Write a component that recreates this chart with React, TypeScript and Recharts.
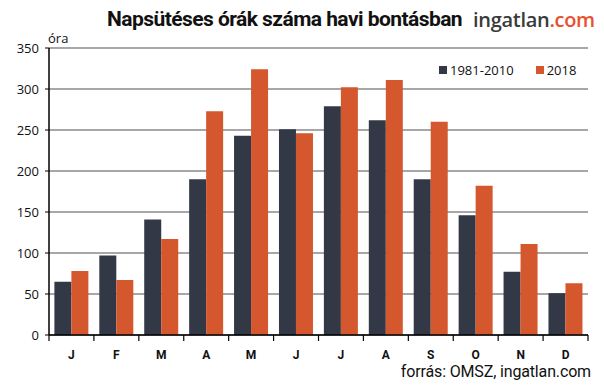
import React from "react";
import { BarChart, Bar, XAxis, YAxis, CartesianGrid } from "recharts";

const months = ["J", "F", "M", "A", "M", "J", "J", "A", "S", "O", "N", "D"];
const avg19812010 = [65, 97, 141, 190, 243, 251, 279, 262, 190, 146, 77, 51];
const y2018 = [78, 67, 117, 273, 324, 246, 302, 311, 260, 182, 111, 63];
const yTicks = [0, 50, 100, 150, 200, 250, 300, 350];

const data = months.map((m, i) => ({
  key: `${m}${i}`,
  month: m,
  a: avg19812010[i],
  b: y2018[i],
}));

const DARK = "#323846";
const ORANGE = "#D4572E";

const CHART_W = 604;
const CHART_H = 387;
const MARGIN = { top: 48, right: 16, left: 0, bottom: 22 };
const Y_W = 49;
const PLOT_W = CHART_W - MARGIN.left - MARGIN.right - Y_W;

const MonthTick = (props: any) => {
  const { x, y, index } = props;
  const step = PLOT_W / months.length;
  const left = x - step / 2;
  const right = x + step / 2;
  return (
    <g>
      <line x1={left} y1={y - 8} x2={left} y2={y - 2} stroke="#000" strokeWidth={1.2} />
      {index === months.length - 1 && (
        <line x1={right} y1={y - 8} x2={right} y2={y - 2} stroke="#000" strokeWidth={1.2} />
      )}
      <text
        x={x}
        y={y + 16}
        textAnchor="middle"
        fontFamily="Roboto, sans-serif"
        fontWeight={700}
        fontSize={12}
        fill="#111"
      >
        {months[index]}
      </text>
    </g>
  );
};

export default function App() {
  return (
    <div style={{ position: "absolute", left: 0, top: 0, width: CHART_W, height: CHART_H, background: "#fff" }}>
      <div
        style={{
          position: "absolute",
          left: 107,
          top: 7,
          fontFamily: "Roboto, sans-serif",
          fontWeight: 700,
          fontSize: 21,
          letterSpacing: -0.55,
          color: "#111",
          whiteSpace: "nowrap",
        }}
      >
        Napsütéses órák száma havi bontásban
      </div>
      <div
        style={{
          position: "absolute",
          left: 473,
          top: 6,
          fontFamily: "'Open Sans', sans-serif",
          fontWeight: 600,
          fontSize: 20,
          letterSpacing: -0.3,
          color: "#3a3a3a",
          whiteSpace: "nowrap",
        }}
      >
        ingatlan<span style={{ color: "#E8512D" }}>.com</span>
      </div>
      <div
        style={{
          position: "absolute",
          left: 48,
          top: 29,
          fontFamily: "'Open Sans', sans-serif",
          fontSize: 13,
          color: "#111",
        }}
      >
        óra
      </div>
      <div
        style={{
          position: "absolute",
          left: 439,
          top: 61,
          display: "flex",
          alignItems: "center",
          fontFamily: "'Open Sans', sans-serif",
          fontSize: 13,
          color: "#111",
          whiteSpace: "nowrap",
        }}
      >
        <span style={{ display: "inline-block", width: 8, height: 8, background: DARK, marginRight: 3 }} />
        <span style={{ marginRight: 22 }}>1981-2010</span>
        <span style={{ display: "inline-block", width: 8, height: 8, background: ORANGE, marginRight: 3 }} />
        <span>2018</span>
      </div>
      <div
        style={{
          position: "absolute",
          right: 13,
          top: 362,
          fontFamily: "Roboto, sans-serif",
          fontSize: 16,
          letterSpacing: -0.15,
          color: "#111",
          whiteSpace: "nowrap",
        }}
      >
        forrás: OMSZ, ingatlan.com
      </div>
      <BarChart
        width={CHART_W}
        height={CHART_H}
        data={data}
        margin={MARGIN}
        barCategoryGap="12%"
        barGap={0}
        style={{ position: "absolute", left: 0, top: 0 }}
      >
        <CartesianGrid vertical={false} stroke="#8a8a8a" strokeWidth={1.5} />
        <XAxis
          dataKey="key"
          tick={<MonthTick />}
          tickLine={false}
          axisLine={{ stroke: "#000", strokeWidth: 1.5 }}
          height={30}
          interval={0}
        />
        <YAxis
          domain={[0, 350]}
          ticks={yTicks}
          width={Y_W}
          axisLine={{ stroke: "#000", strokeWidth: 1.5 }}
          tickLine={{ stroke: "#000" }}
          tickSize={4}
          tick={{ fontFamily: "'Open Sans', sans-serif", fontSize: 13, fill: "#111" }}
          tickMargin={6}
        />
        <Bar dataKey="a" name="1981-2010" fill={DARK} isAnimationActive={false} />
        <Bar dataKey="b" name="2018" fill={ORANGE} isAnimationActive={false} />
      </BarChart>
    </div>
  );
}
